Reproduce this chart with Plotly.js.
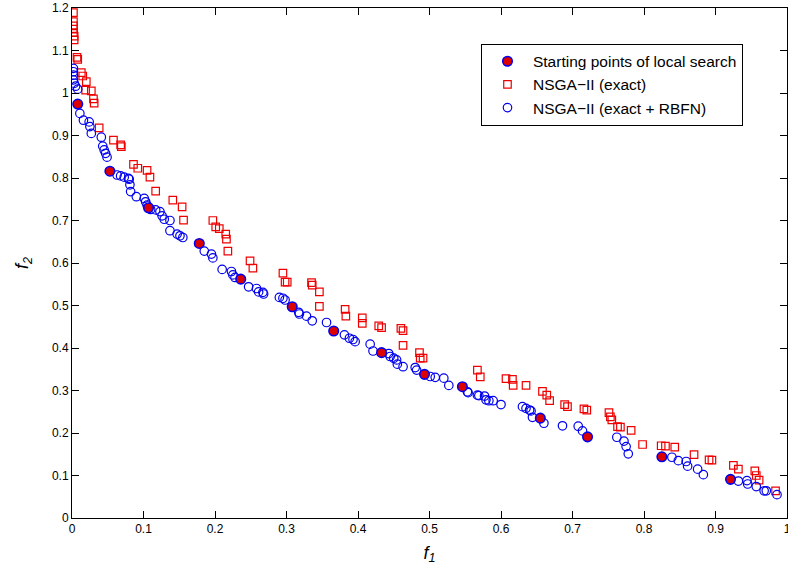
<!DOCTYPE html>
<html>
<head>
<meta charset="utf-8">
<script src="https://cdn.plot.ly/plotly-3.0.1.min.js"></script>
<style>html,body{margin:0;padding:0;background:#fff;}#chart{width:788px;height:576px;}</style>
</head>
<body>
<div id="chart"></div>
<script>
// Starting points of local search
var startF1 = [0.008,0.053,0.107,0.178,0.236,0.308,0.366,0.433,0.493,0.546,0.655,0.721,0.825,0.921];
var startF2 = [0.974,0.816,0.730,0.646,0.562,0.497,0.440,0.389,0.338,0.309,0.235,0.191,0.144,0.091];

// NSGA-II (exact)
var exactF1 = [0.002,0.002,0.002,0.002,0.002,0.003,0.003,0.007,0.008,0.013,0.015,0.020,0.019,0.027,0.030,0.031,0.038,0.058,0.068,0.069,0.086,0.092,0.105,0.109,0.117,0.141,0.154,0.156,0.197,0.201,0.206,0.215,0.216,0.218,0.249,0.253,0.295,0.298,0.301,0.335,0.336,0.346,0.346,0.382,0.383,0.406,0.406,0.429,0.433,0.460,0.463,0.463,0.486,0.487,0.491,0.567,0.571,0.607,0.616,0.617,0.635,0.658,0.664,0.668,0.689,0.693,0.716,0.720,0.751,0.753,0.755,0.763,0.767,0.782,0.798,0.824,0.830,0.843,0.870,0.891,0.895,0.925,0.932,0.955,0.957,0.961,0.984];
var exactF2 = [1.189,1.168,1.158,1.150,1.142,1.134,1.125,1.084,1.079,1.048,1.040,1.027,1.007,1.005,0.986,0.976,0.918,0.889,0.878,0.874,0.832,0.823,0.818,0.802,0.769,0.748,0.732,0.701,0.700,0.685,0.681,0.668,0.656,0.628,0.605,0.588,0.576,0.555,0.555,0.554,0.548,0.532,0.498,0.491,0.475,0.471,0.458,0.452,0.448,0.446,0.441,0.406,0.389,0.376,0.376,0.348,0.332,0.328,0.326,0.312,0.312,0.298,0.289,0.276,0.267,0.262,0.257,0.254,0.248,0.238,0.231,0.215,0.214,0.206,0.173,0.170,0.169,0.167,0.149,0.137,0.136,0.124,0.115,0.111,0.100,0.089,0.064];

// NSGA-II (exact + RBFN)
var rbfnF1 = [0.002,0.002,0.002,0.002,0.003,0.005,0.008,0.011,0.016,0.024,0.025,0.027,0.041,0.043,0.045,0.047,0.049,0.063,0.068,0.073,0.079,0.080,0.081,0.082,0.090,0.101,0.103,0.105,0.110,0.117,0.123,0.126,0.129,0.137,0.137,0.147,0.151,0.155,0.185,0.195,0.197,0.210,0.223,0.225,0.228,0.247,0.258,0.261,0.267,0.268,0.290,0.295,0.298,0.317,0.318,0.328,0.336,0.356,0.381,0.388,0.393,0.396,0.417,0.421,0.443,0.445,0.450,0.454,0.455,0.463,0.480,0.482,0.501,0.508,0.520,0.527,0.553,0.554,0.567,0.569,0.577,0.579,0.583,0.589,0.600,0.630,0.635,0.640,0.642,0.644,0.660,0.686,0.708,0.714,0.762,0.772,0.775,0.778,0.839,0.848,0.859,0.861,0.875,0.883,0.932,0.944,0.945,0.957,0.968,0.971,0.986];
var rbfnF2 = [1.058,1.050,1.042,1.031,1.023,1.016,1.009,0.952,0.936,0.932,0.921,0.905,0.896,0.875,0.866,0.858,0.849,0.807,0.805,0.802,0.799,0.797,0.784,0.768,0.756,0.752,0.744,0.736,0.726,0.725,0.721,0.711,0.703,0.700,0.676,0.668,0.664,0.660,0.628,0.621,0.612,0.585,0.580,0.572,0.566,0.544,0.540,0.532,0.531,0.527,0.519,0.517,0.513,0.484,0.480,0.475,0.464,0.460,0.431,0.423,0.420,0.415,0.409,0.393,0.387,0.380,0.376,0.372,0.362,0.356,0.354,0.348,0.333,0.331,0.329,0.312,0.297,0.295,0.289,0.288,0.287,0.278,0.276,0.276,0.267,0.262,0.258,0.254,0.252,0.237,0.223,0.217,0.216,0.205,0.190,0.181,0.168,0.151,0.143,0.135,0.133,0.122,0.115,0.102,0.087,0.088,0.080,0.074,0.064,0.064,0.055];

var seriesNames = ['Starting points of local search', 'NSGA\u2212II (exact)', 'NSGA\u2212II (exact + RBFN)'];

var traces = [
  {x: exactF1, y: exactF2, type: 'scatter', mode: 'markers', name: seriesNames[1], legendrank: 2,
   marker: {symbol: 'square-open', size: 7.5, color: '#ee0000', line: {width: 1.2}}},
  {x: rbfnF1, y: rbfnF2, type: 'scatter', mode: 'markers', name: seriesNames[2], legendrank: 3,
   marker: {symbol: 'circle-open', size: 8.5, color: '#0000ee', line: {width: 1.2}}},
  {x: startF1, y: startF2, type: 'scatter', mode: 'markers', name: seriesNames[0], legendrank: 1,
   marker: {symbol: 'circle', size: 9.5, color: '#dd0000', line: {color: '#0000ee', width: 1.6}}}
];

var tickFont = {family: 'Liberation Sans, Arial, sans-serif', size: 12, color: '#000'};
var axisCommon = {
  showgrid: false, zeroline: false, showline: true, linecolor: '#000', linewidth: 1,
  mirror: 'ticks', ticks: 'inside', ticklen: 7, tickcolor: '#000',
  tickfont: tickFont, ticklabeloverflow: 'allow'
};

var layout = {
  width: 788, height: 576,
  margin: {l: 72, r: 1, t: 8, b: 58},
  paper_bgcolor: '#fff', plot_bgcolor: '#fff',
  showlegend: true,
  legend: {x: 0.572, y: 0.93, xanchor: 'left', yanchor: 'top', bordercolor: '#000', borderwidth: 1,
           itemwidth: 41, bgcolor: '#fff',
           font: {family: 'Liberation Sans, Arial, sans-serif', size: 15.5, color: '#000'}},
  xaxis: Object.assign({}, axisCommon, {range: [0, 1], dtick: 0.1, tick0: 0,
    title: {text: '<i>f</i><sub><i>1</i></sub>', font: {family: 'Liberation Sans, Arial, sans-serif', size: 18, color: '#000'}, standoff: 10}}),
  yaxis: Object.assign({}, axisCommon, {range: [0, 1.2], dtick: 0.1, tick0: 0,
    title: {text: '<i>f</i><sub><i>2</i></sub>', font: {family: 'Liberation Sans, Arial, sans-serif', size: 18, color: '#000'}, standoff: 18}})
};

Plotly.newPlot('chart', traces, layout, {displayModeBar: false, staticPlot: true});
</script>
</body>
</html>
